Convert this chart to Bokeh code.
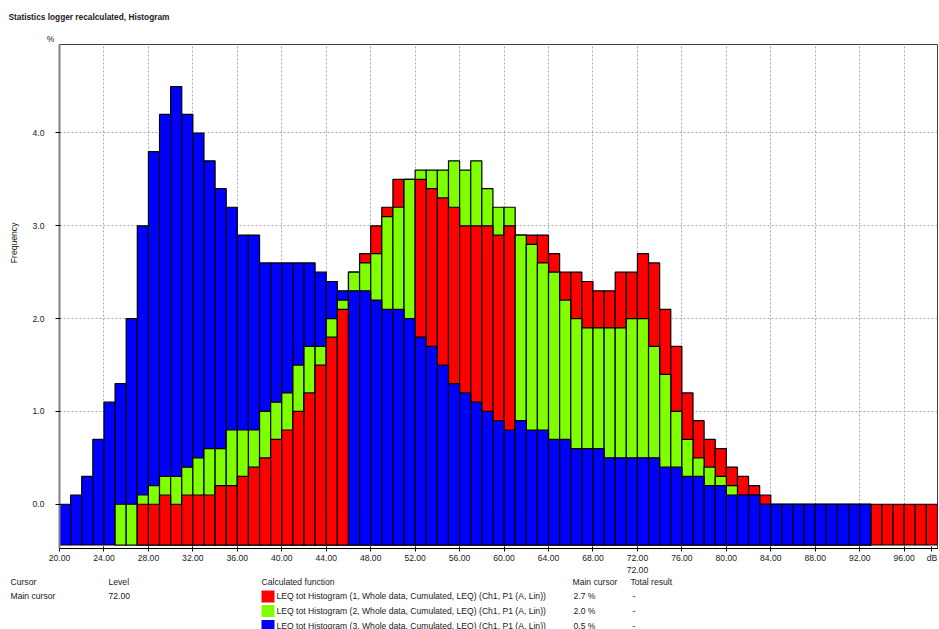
import math
from bokeh.plotting import figure
from bokeh.layouts import column, row
from bokeh.models import (FixedTicker, Range1d, ColumnDataSource,
                          NumeralTickFormatter, LinearAxis)
from bokeh.core.properties import value
from bokeh.embed import file_html
from bokeh.resources import INLINE

# ---------------- data ----------------
bins = list(range(20, 99))          # 1 dB classes, 20..98 dB
NaN = float("nan")

red = [NaN, NaN, NaN, NaN, NaN, NaN, NaN, 0.0, 0.0, 0.1,      # 20-29
       0.0, 0.1, 0.1, 0.1, 0.2, 0.2, 0.3, 0.4, 0.5, 0.7,      # 30-39
       0.8, 1.0, 1.2, 1.5, 1.8, 2.1, 2.5, 2.7, 3.0, 3.2,      # 40-49
       3.5, 3.5, 3.5, 3.4, 3.3, 3.2, 3.0, 3.0, 3.0, 2.9,      # 50-59
       3.0, 2.9, 2.9, 2.9, 2.7, 2.5, 2.5, 2.4, 2.3, 2.3,      # 60-69
       2.5, 2.5, 2.7, 2.6, 2.1, 1.7, 1.2, 0.9, 0.7, 0.6,      # 70-79
       0.4, 0.3, 0.2, 0.1, 0.0, 0.0, 0.0, 0.0, 0.0, 0.0,      # 80-89
       0.0, 0.0, 0.0, 0.0, 0.0, 0.0, 0.0, 0.0, 0.0]           # 90-98

green = [NaN, NaN, NaN, NaN, NaN, 0.0, 0.0, 0.1, 0.2, 0.3,    # 20-29
         0.3, 0.4, 0.5, 0.6, 0.6, 0.8, 0.8, 0.8, 1.0, 1.1,    # 30-39
         1.2, 1.5, 1.7, 1.7, 2.0, 2.2, 2.5, 2.6, 2.7, 3.1,    # 40-49
         3.2, 3.5, 3.6, 3.6, 3.6, 3.7, 3.6, 3.7, 3.4, 3.2,    # 50-59
         3.2, 2.9, 2.8, 2.6, 2.5, 2.2, 2.0, 1.9, 1.9, 1.9,    # 60-69
         1.9, 2.0, 2.0, 1.7, 1.4, 1.0, 0.7, 0.5, 0.4, 0.3,    # 70-79
         0.2, 0.1, 0.1, 0.0, 0.0, 0.0, 0.0, 0.0, 0.0, 0.0,    # 80-89
         0.0, 0.0, 0.0, NaN, NaN, NaN, NaN, NaN, NaN]         # 90-98

blue = [0.0, 0.1, 0.3, 0.7, 1.1, 1.3, 2.0, 3.0, 3.8, 4.2,     # 20-29
        4.5, 4.2, 4.0, 3.7, 3.4, 3.2, 2.9, 2.9, 2.6, 2.6,     # 30-39
        2.6, 2.6, 2.6, 2.5, 2.4, 2.3, 2.3, 2.3, 2.2, 2.1,     # 40-49
        2.1, 2.0, 1.8, 1.7, 1.5, 1.3, 1.2, 1.1, 1.0, 0.9,     # 50-59
        0.8, 0.9, 0.8, 0.8, 0.7, 0.7, 0.6, 0.6, 0.6, 0.5,     # 60-69
        0.5, 0.5, 0.5, 0.5, 0.4, 0.4, 0.3, 0.3, 0.2, 0.2,     # 70-79
        0.1, 0.1, 0.1, 0.0, 0.0, 0.0, 0.0, 0.0, 0.0, 0.0,     # 80-89
        0.0, 0.0, 0.0, NaN, NaN, NaN, NaN, NaN, NaN]          # 90-98

series = [red, green, blue]
series_colors = ["#ff0000", "#80ff00", "#0000ff"]
function_names = [
    "LEQ tot Histogram (1, Whole data, Cumulated, LEQ) (Ch1, P1 (A, Lin))",
    "LEQ tot Histogram (2, Whole data, Cumulated, LEQ) (Ch1, P1 (A, Lin))",
    "LEQ tot Histogram (3, Whole data, Cumulated, LEQ) (Ch1, P1 (A, Lin))",
]
x_ticks = [20, 24, 28, 32, 36, 40, 44, 48, 52, 56, 60, 64, 68, 72, 76, 80, 84, 88, 92, 96]
y_ticks = [0, 1, 2, 3, 4]
unit_x = "dB"
unit_y = "%"
y_title = "Frequency"
cursor_level = 72
title_text = "Statistics logger recalculated, Histogram"
header_texts = ["Cursor", "Level", "Calculated function", "Main cursor", "Total result"]

# ---------------- layout ----------------
PAGE_W, PAGE_H = 939, 629
FRAME_TOP, FRAME_BOT = 44, 549       # page y of plot frame
MAIN_BOT = 575                       # page y where the cursor table starts
LEFT_W = 25                          # strip holding the rotated y title
FRAME_L = 59                         # page x of plot frame
FRAME_W = 878
X0, X1 = 20, 99
ZERO_Y = 504.67                      # page y of 0 %
PPU = 93.0                           # pixels per 1 %
Y1 = (ZERO_Y - FRAME_TOP) / PPU
Y0 = -(FRAME_BOT - ZERO_Y) / PPU
FLOOR = -(545.5 - ZERO_Y) / PPU      # bars start just above the axis line
FONT = "Liberation Sans"
FS = "8.6px"
TXT = "#202020"


def strip(w, h, y_top, x_left=0):
    f = figure(width=w, height=h, x_range=Range1d(x_left, x_left + w),
               y_range=Range1d(y_top + h, y_top), min_border=0,
               x_axis_type=None, y_axis_type=None, output_backend="svg",
               toolbar_location=None, title=None)
    f.outline_line_color = None
    f.grid.visible = False
    f.background_fill_color = "white"
    f.border_fill_color = "white"
    return f


def txt(f, s, x, y, align="left", bold=False, angle=0.0, size=FS):
    f.text(x=[x], y=[y], text=[s], text_font=value(FONT), text_font_size=size,
           text_align=align, text_baseline="middle", angle=angle,
           text_font_style="bold" if bold else "normal", text_color=TXT)


# top strip: title and unit of y
top = strip(PAGE_W, FRAME_TOP, 0)
txt(top, title_text, 8, 16, bold=True, size="8.3px")
txt(top, unit_y, 50, 38, align="center")

# left strip: y title
left = strip(LEFT_W, MAIN_BOT - FRAME_TOP, FRAME_TOP)
txt(left, y_title, 13, 253, align="center", angle=math.pi / 2)

# main chart
MW = PAGE_W - LEFT_W
p = figure(width=MW, height=MAIN_BOT - FRAME_TOP,
           x_range=Range1d(X0, X1), y_range=Range1d(Y0, Y1),
           min_border_left=FRAME_L - LEFT_W,
           min_border_right=MW - (FRAME_L - LEFT_W) - FRAME_W,
           min_border_top=0, min_border_bottom=MAIN_BOT - FRAME_BOT,
           output_backend="svg", toolbar_location=None, title=None)
p.background_fill_color = "white"
p.border_fill_color = "white"
p.outline_line_color = "#404040"
p.outline_line_width = 1

p.xgrid.ticker = FixedTicker(ticks=x_ticks)
p.ygrid.ticker = FixedTicker(ticks=y_ticks)
for g in (p.xgrid, p.ygrid):
    g.grid_line_color = "#a8a8a8"
    g.grid_line_dash = "2 2"
    g.grid_line_width = 1

unit_pos = 98.5
p.xaxis.ticker = FixedTicker(ticks=x_ticks + [unit_pos])
p.xaxis.formatter = NumeralTickFormatter(format="0.00")
p.xaxis.major_label_overrides = {unit_pos: unit_x}
p.xaxis.axis_line_color = "black"
p.xaxis.major_tick_line_color = "black"
p.xaxis.major_tick_in = 2
p.xaxis.major_tick_out = 3
p.xaxis.minor_tick_line_color = None
p.xaxis.major_label_standoff = 1
p.xaxis.major_label_text_font = FONT
p.xaxis.major_label_text_font_size = FS
p.xaxis.major_label_text_color = TXT

cur_axis = LinearAxis(ticker=FixedTicker(ticks=[cursor_level]),
                      formatter=NumeralTickFormatter(format="0.00"),
                      axis_line_color=None, major_tick_line_color=None,
                      minor_tick_line_color=None, major_tick_in=0,
                      major_tick_out=0, major_label_standoff=1,
                      major_label_text_font=FONT,
                      major_label_text_font_size=FS,
                      major_label_text_color=TXT)
p.add_layout(cur_axis, "below")

p.yaxis.ticker = FixedTicker(ticks=y_ticks)
p.yaxis.formatter = NumeralTickFormatter(format="0.0")
p.yaxis.axis_line_color = "#808080"
p.yaxis.axis_line_width = 2
p.yaxis.major_tick_line_color = "black"
p.yaxis.major_tick_in = 1
p.yaxis.major_tick_out = 4
p.yaxis.minor_tick_line_color = None
p.yaxis.major_label_standoff = 11
p.yaxis.major_label_text_font = FONT
p.yaxis.major_label_text_font_size = FS
p.yaxis.major_label_text_color = TXT

# bars: per class, tallest drawn first, shortest in front
layers = [dict(left=[], right=[], top=[], color=[]) for _ in range(3)]
for i, b in enumerate(bins):
    vals = [(s[i], k) for k, s in enumerate(series) if not math.isnan(s[i])]
    vals.sort(key=lambda t: (-t[0], t[1]))
    for layer, (v, k) in enumerate(vals):
        layers[layer]["left"].append(b)
        layers[layer]["right"].append(b + 1)
        layers[layer]["top"].append(v)
        layers[layer]["color"].append(series_colors[k])

for d in layers:
    src = ColumnDataSource(d)
    p.quad(left="left", right="right", top="top", bottom=FLOOR, source=src,
           fill_color="color", line_color="black", line_width=1.2)

# bottom strip: cursor table
bot = strip(PAGE_W, PAGE_H - MAIN_BOT, MAIN_BOT)
hx = [10, 108, 261, 572, 630]
for t, x in zip(header_texts, hx):
    txt(bot, t, x, 581)
row_y = [595.5, 610, 625]
txt(bot, "Main cursor", 10, row_y[0])
txt(bot, f"{cursor_level:.2f}", 108, row_y[0])
ci = bins.index(cursor_level)
sq = dict(left=[], right=[], top=[], bottom=[], color=[])
for k in range(3):
    y = row_y[k]
    sq["left"].append(261)
    sq["right"].append(274)
    sq["top"].append(y - 5.5)
    sq["bottom"].append(y + 6.5)
    sq["color"].append(series_colors[k])
    txt(bot, function_names[k], 276, y)
    txt(bot, f"{series[k][ci]:.1f} %", 573, y)
    txt(bot, "-", 632, y)
bot.quad(left="left", right="right", top="top", bottom="bottom",
         source=ColumnDataSource(sq), fill_color="color", line_color=None)

layout = column(top, row(left, p), bot)
open("out.html", "w").write(file_html(layout, INLINE))
